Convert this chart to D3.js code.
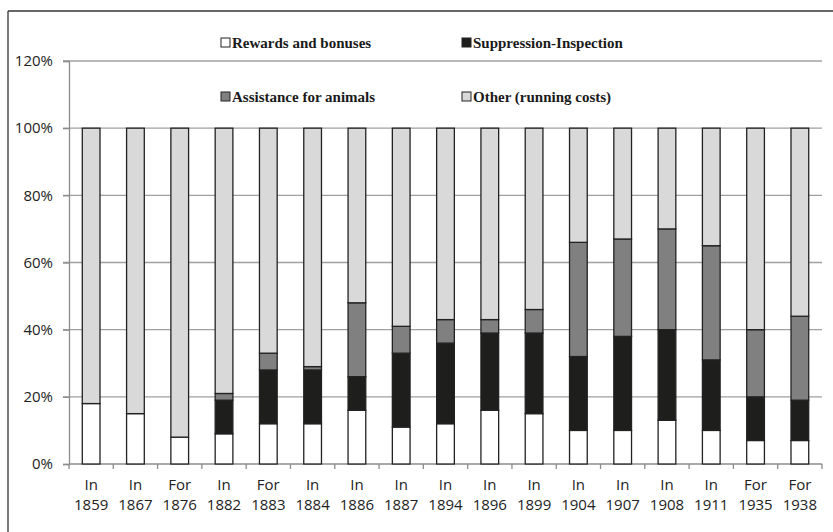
<!DOCTYPE html>
<html>
<head>
<meta charset="utf-8">
<script src="https://cdn.jsdelivr.net/npm/d3@7"></script>
<style>
  body { margin: 0; background: #fff; }
  svg { display: block; }
</style>
</head>
<body>
<svg width="833" height="532"></svg>
<script>
const prefixes = ['In', 'In', 'For', 'In', 'For', 'In', 'In', 'In', 'In', 'In', 'In', 'In', 'In', 'In', 'In', 'For', 'For'];
const years = ['1859', '1867', '1876', '1882', '1883', '1884', '1886', '1887', '1894', '1896', '1899', '1904', '1907', '1908', '1911', '1935', '1938'];

const rewards = [18, 15, 8, 9, 12, 12, 16, 11, 12, 16, 15, 10, 10, 13, 10, 7, 7];
const suppression = [0, 0, 0, 10, 16, 16, 10, 22, 24, 23, 24, 22, 28, 27, 21, 13, 12];
const assistance = [0, 0, 0, 2, 5, 1, 22, 8, 7, 4, 7, 34, 29, 30, 34, 20, 25];
const other = [82, 85, 92, 79, 67, 71, 52, 59, 57, 57, 54, 34, 33, 30, 35, 60, 56];

const seriesNames = ['Rewards and bonuses', 'Suppression-Inspection', 'Assistance for animals', 'Other (running costs)'];
const colors = ['#ffffff', '#1e1e1c', '#808080', '#d9d9d9'];
const yTicks = [0, 20, 40, 60, 80, 100, 120];

const svg = d3.select('svg');
const margin = { left: 69, right: 11, top: 61, bottom: 68 };
const width = 833;
const height = 532;

const rows = years.map((y, i) => ({
  key: y, prefix: prefixes[i],
  r: rewards[i], s: suppression[i], a: assistance[i], o: other[i]
}));

const x = d3.scaleBand()
  .domain(years)
  .range([margin.left, width - margin.right])
  .paddingInner(0.6)
  .paddingOuter(0.3);

const y = d3.scaleLinear()
  .domain([0, 120])
  .range([height - margin.bottom, margin.top]);

// frame (only left and top edges visible)
svg.append('line').attr('x1', 8).attr('x2', 8).attr('y1', 11).attr('y2', height)
  .attr('stroke', '#333').attr('stroke-width', 1.3);
svg.append('line').attr('x1', 8).attr('x2', width).attr('y1', 11).attr('y2', 11)
  .attr('stroke', '#333').attr('stroke-width', 1.3);

// gridlines
svg.append('g')
  .selectAll('line')
  .data(yTicks.slice(1))
  .enter()
  .append('line')
  .attr('x1', margin.left - 6)
  .attr('x2', width - margin.right)
  .attr('y1', d => y(d))
  .attr('y2', d => y(d))
  .attr('stroke', '#a0a0a0')
  .attr('stroke-width', 1.3);

// y axis
const yAxis = svg.append('g')
  .attr('transform', `translate(${margin.left},0)`)
  .call(d3.axisLeft(y).tickValues(yTicks).tickSize(6).tickPadding(10).tickFormat(d => `${d}%`));
yAxis.select('.domain').attr('stroke', '#8c8c8c').attr('stroke-width', 1.3);
yAxis.selectAll('.tick line').attr('stroke', '#8c8c8c').attr('stroke-width', 1.3);
yAxis.selectAll('text')
  .style('font-family', 'Open Sans, sans-serif')
  .style('font-size', '15px')
  .attr('fill', '#222');

// x axis line with ticks between categories
const baseY = y(0);
svg.append('line')
  .attr('x1', margin.left).attr('x2', width - margin.right)
  .attr('y1', baseY).attr('y2', baseY)
  .attr('stroke', '#8c8c8c').attr('stroke-width', 1.3);
const step = x.step();
svg.append('g')
  .selectAll('line')
  .data(d3.range(years.length + 1))
  .enter()
  .append('line')
  .attr('x1', i => margin.left + i * step)
  .attr('x2', i => margin.left + i * step)
  .attr('y1', baseY)
  .attr('y2', baseY + 5)
  .attr('stroke', '#8c8c8c')
  .attr('stroke-width', 1.3);

// stacked bars
const stack = d3.stack().keys(['r', 's', 'a', 'o']);
const layers = stack(rows);

svg.append('g')
  .selectAll('g')
  .data(layers)
  .enter()
  .append('g')
  .attr('fill', (d, i) => colors[i])
  .selectAll('rect')
  .data(d => d)
  .enter()
  .append('rect')
  .attr('x', d => x(d.data.key))
  .attr('width', x.bandwidth())
  .attr('y', d => y(d[1]))
  .attr('height', d => y(d[0]) - y(d[1]))
  .attr('stroke', '#222')
  .attr('stroke-width', 1.3);

// x labels
const xl = svg.append('g')
  .selectAll('text')
  .data(rows)
  .enter()
  .append('text')
  .attr('x', d => x(d.key) + x.bandwidth() / 2)
  .attr('text-anchor', 'middle')
  .style('font-family', 'Open Sans, sans-serif')
  .style('font-size', '15px')
  .attr('fill', '#222');
xl.append('tspan').attr('x', d => x(d.key) + x.bandwidth() / 2).attr('y', baseY + 26).text(d => d.prefix);
xl.append('tspan').attr('x', d => x(d.key) + x.bandwidth() / 2).attr('y', baseY + 46).text(d => d.key);

// legend
const legendPos = [[225, 43], [466, 43], [225, 97], [466, 97]];
const legend = svg.append('g')
  .selectAll('g')
  .data(seriesNames)
  .enter()
  .append('g')
  .attr('transform', (d, i) => `translate(${legendPos[i][0]},${legendPos[i][1]})`);
legend.append('rect')
  .attr('x', -4).attr('y', -5)
  .attr('width', 9).attr('height', 9)
  .attr('fill', (d, i) => colors[i])
  .attr('stroke', '#222')
  .attr('stroke-width', 1);
legend.append('text')
  .attr('x', 7)
  .attr('y', 5)
  .style('font-family', 'Liberation Serif, Times New Roman, serif')
  .style('font-weight', 'bold')
  .style('font-size', '15px')
  .attr('fill', '#1a1a1a')
  .text(d => d);
</script>
</body>
</html>
